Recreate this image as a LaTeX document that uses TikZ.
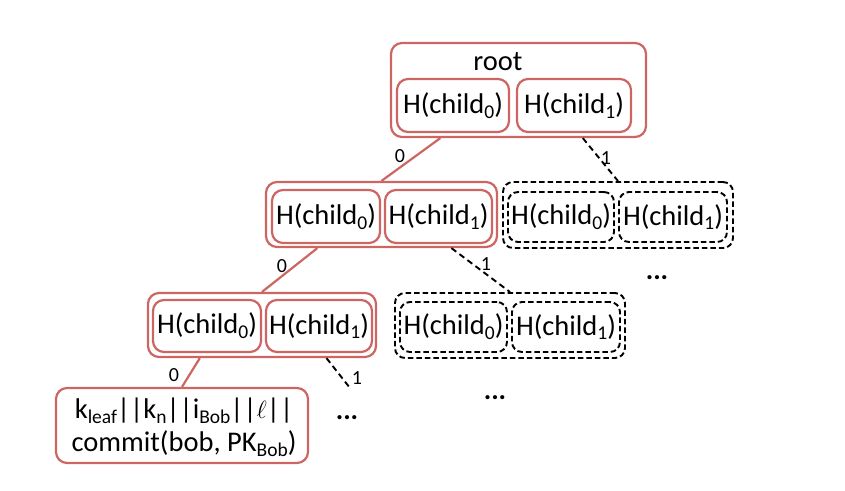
\documentclass[tikz,border=0pt]{standalone}
\usepackage{fontspec}
\setmainfont{Carlito}
\usetikzlibrary{calc}
\definecolor{boxred}{RGB}{205,102,98}
\newcommand{\sbs}[1]{\raisebox{-0.35ex}{\fontsize{19.5}{19.5}\selectfont #1}}
\begin{document}
\begin{tikzpicture}[x=1pt,y=-1pt,
  redbox/.style={draw=boxred, line width=2.2pt, rounded corners=11pt, inner sep=0pt, rectangle},
  dashbox/.style={draw=black, line width=1.9pt, dash pattern=on 5.5pt off 3pt, rounded corners=10pt, inner sep=0pt, rectangle},
  txt/.style={font=\fontsize{28.5}{30}\selectfont},
  lbl/.style={font=\fontsize{20}{20}\selectfont, inner sep=0pt},
  rededge/.style={draw=boxred, line width=2.2pt},
  dashedge/.style={draw=black, line width=1.9pt, dash pattern=on 6pt off 4pt},
  dots/.style={font=\fontsize{28}{30}\selectfont\bfseries, inner sep=0pt}]
\useasboundingbox (0,0) rectangle (845,490);
% root
\node[redbox, minimum width=255pt, minimum height=94pt] (root) at (518.5,90) {};
\node[txt, inner sep=0pt] (roottxt) at (498,62) {root};
\node[redbox, txt, minimum width=112pt, minimum height=53pt] (r0) at (453,105.5) {H(child\sbs{0})};
\node[redbox, txt, minimum width=114pt, minimum height=53pt] (r1) at (574,105.5) {H(child\sbs{1})};
% level 2 red
\node[redbox, minimum width=231pt, minimum height=65pt] (l2) at (381.5,214.5) {};
\node[redbox, txt, minimum width=108pt, minimum height=53pt] (l20) at (326,216.5) {H(child\sbs{0})};
\node[redbox, txt, minimum width=107pt, minimum height=53pt] (l21) at (438.5,216.5) {H(child\sbs{1})};
% level 2 dashed
\node[dashbox, minimum width=230pt, minimum height=66pt] (d2) at (618,215) {};
\node[dashbox, txt, minimum width=106pt, minimum height=50pt] (d20) at (561,217) {H(child\sbs{0})};
\node[dashbox, txt, minimum width=108pt, minimum height=50pt] (d21) at (673,217) {H(child\sbs{1})};
% level 3 red
\node[redbox, minimum width=228pt, minimum height=64pt] (l3) at (262,325) {};
\node[redbox, txt, minimum width=108pt, minimum height=52pt] (l30) at (207,326) {H(child\sbs{0})};
\node[redbox, txt, minimum width=106pt, minimum height=52pt] (l31) at (319,326) {H(child\sbs{1})};
% level 3 dashed
\node[dashbox, minimum width=230pt, minimum height=65pt] (d3) at (510,325.5) {};
\node[dashbox, txt, minimum width=107pt, minimum height=50pt] (d30) at (453.5,327) {H(child\sbs{0})};
\node[dashbox, txt, minimum width=108pt, minimum height=50pt] (d31) at (566,327) {H(child\sbs{1})};
% leaf
\node[redbox, minimum width=252pt, minimum height=75pt] (leaf) at (182,425.5) {};
\node[inner sep=0pt, align=center, font=\fontsize{28.5}{33}\selectfont] (leaftxt) at (184,427) {k\sbs{leaf}||k\sbs{n}||i\sbs{Bob}||$\ell$||\\commit(bob, PK\sbs{Bob})};
% dots
\node[dots] (dotsA) at (347,418) {...};
\node[dots] (dotsB) at (495,398) {...};
\node[dots] (dotsC) at (657,278) {...};
\coordinate (dend) at (350,388);
% edges
\draw[rededge] ($(root.south west)!0.196!(root.south east)$) -- (l2.north);
\draw[dashedge] ($(root.south west)!0.75!(root.south east)$) -- (d2.north);
\draw[rededge] ($(l2.south west)!0.225!(l2.south east)$) -- (l3.north);
\draw[dashedge] ($(l2.south west)!0.8!(l2.south east)$) -- (d3.north);
\draw[rededge] ($(l3.south west)!0.23!(l3.south east)$) -- (leaf.north);
\draw[dashedge] ($(l3.south west)!0.78!(l3.south east)$) -- (dend);
% labels
\node[lbl] (e1) at (400,156) {0};
\node[lbl] (e2) at (606,158) {1};
\node[lbl] (e3) at (282,266) {0};
\node[lbl] (e4) at (486,264) {1};
\node[lbl] (e5) at (174,375) {0};
\node[lbl] (e6) at (357,378) {1};
\end{tikzpicture}
\end{document}
